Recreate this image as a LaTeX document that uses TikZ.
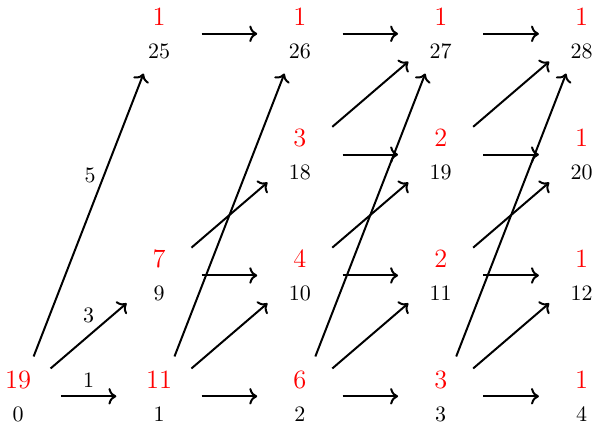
\documentclass[tikz,border=0pt]{standalone}
\usepackage{xcolor}
\usepackage{tikz}
\usetikzlibrary{arrows.meta,positioning}

\begin{document}
\begin{tikzpicture}[every node/.style={align=center},cell/.style={circle,minimum size=1.35cm,inner sep=0pt},hop/.style={->,line width=0.9pt}]
  \useasboundingbox (-0.29,-0.54) rectangle (9.23,6.33);

  % Column 0
  \node[cell] (v0) at (0,0) {{\large\textcolor{red}{19}}\\[3pt]0};

  % Column 1
  \node[cell] (v1) at (2.25,0) {{\large\textcolor{red}{11}}\\[3pt]1};
  \node[cell] (v9) at (2.25,1.93) {{\large\textcolor{red}{7}}\\[3pt]9};
  \node[cell] (v25) at (2.25,5.79) {{\large\textcolor{red}{1}}\\[3pt]25};

  % Column 2
  \node[cell] (v2) at (4.5,0) {{\large\textcolor{red}{6}}\\[3pt]2};
  \node[cell] (v10) at (4.5,1.93) {{\large\textcolor{red}{4}}\\[3pt]10};
  \node[cell] (v18) at (4.5,3.86) {{\large\textcolor{red}{3}}\\[3pt]18};
  \node[cell] (v26) at (4.5,5.79) {{\large\textcolor{red}{1}}\\[3pt]26};

  % Column 3
  \node[cell] (v3) at (6.75,0) {{\large\textcolor{red}{3}}\\[3pt]3};
  \node[cell] (v11) at (6.75,1.93) {{\large\textcolor{red}{2}}\\[3pt]11};
  \node[cell] (v19) at (6.75,3.86) {{\large\textcolor{red}{2}}\\[3pt]19};
  \node[cell] (v27) at (6.75,5.79) {{\large\textcolor{red}{1}}\\[3pt]27};

  % Column 4
  \node[cell] (v4) at (9,0) {{\large\textcolor{red}{1}}\\[3pt]4};
  \node[cell] (v12) at (9,1.93) {{\large\textcolor{red}{1}}\\[3pt]12};
  \node[cell] (v20) at (9,3.86) {{\large\textcolor{red}{1}}\\[3pt]20};
  \node[cell] (v28) at (9,5.79) {{\large\textcolor{red}{1}}\\[3pt]28};

  % Steps out of 0
  \draw[hop] (v0) -- node[above] (w1) {1} (v1);
  \draw[hop] (v0) -- node[above=2pt] (w3) {3} (v9);
  \draw[hop] (v0) -- node[pos=0.64,left] (w5) {5} (v25);

  % Steps out of column 1
  \draw[hop] (v1) -- (v2);
  \draw[hop] (v1) -- (v10);
  \draw[hop] (v1) -- (v26);
  \draw[hop] (v9) -- (v10);
  \draw[hop] (v9) -- (v18);
  \draw[hop] (v25) -- (v26);

  % Steps out of column 2
  \draw[hop] (v2) -- (v3);
  \draw[hop] (v2) -- (v11);
  \draw[hop] (v2) -- (v27);
  \draw[hop] (v10) -- (v11);
  \draw[hop] (v10) -- (v19);
  \draw[hop] (v18) -- (v19);
  \draw[hop] (v18) -- (v27);
  \draw[hop] (v26) -- (v27);

  % Steps out of column 3
  \draw[hop] (v3) -- (v4);
  \draw[hop] (v3) -- (v12);
  \draw[hop] (v3) -- (v28);
  \draw[hop] (v11) -- (v12);
  \draw[hop] (v11) -- (v20);
  \draw[hop] (v19) -- (v20);
  \draw[hop] (v19) -- (v28);
  \draw[hop] (v27) -- (v28);
\end{tikzpicture}
\end{document}
